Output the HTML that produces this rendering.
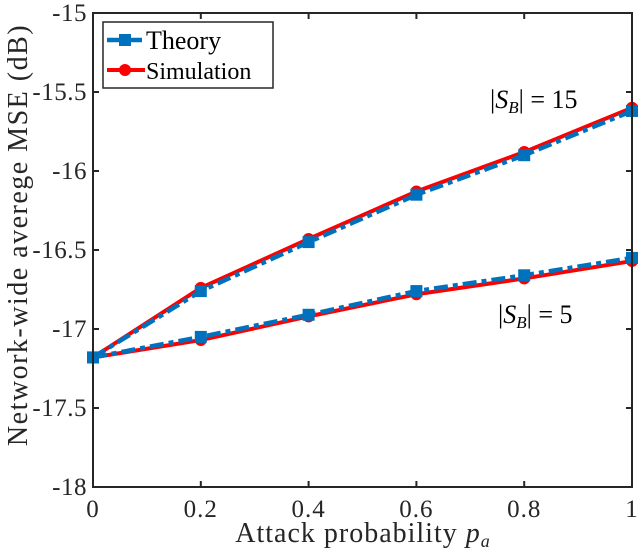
<!DOCTYPE html>
<html><head><meta charset="utf-8"><style>
body{margin:0;background:#fff}
svg{display:block;font-family:"Liberation Serif",serif}
</style></head><body>
<svg id="chart" width="640" height="550">
<rect width="640" height="550" fill="#fff"/>
<g id="grid"></g>
<g id="series"></g>
<g id="axes"></g>
</svg>
<script>
const xTicks=[0,0.2,0.4,0.6,0.8,1];
const xTickLabels=["0","0.2","0.4","0.6","0.8","1"];
const yTicks=[-15,-15.5,-16,-16.5,-17,-17.5,-18];
const yTickLabels=["-15","-15.5","-16","-16.5","-17","-17.5","-18"];
const pa=[0,0.2,0.4,0.6,0.8,1];
const theory15=[-17.18,-16.76,-16.45,-16.15,-15.9,-15.62];
const sim15=[-17.18,-16.74,-16.43,-16.13,-15.88,-15.6];
const theory5=[-17.18,-17.05,-16.91,-16.76,-16.66,-16.55];
const sim5=[-17.18,-17.07,-16.92,-16.78,-16.68,-16.57];

const L=93,R=632,T=13,B=487;
const sx=v=>L+(v-0)/(1-0)*(R-L);
const sy=v=>T+(-15-v)/3*(B-T);
const NS="http://www.w3.org/2000/svg";
function mk(tag,attrs,parent){const e=document.createElementNS(NS,tag);for(const k in attrs)e.setAttribute(k,attrs[k]);parent.appendChild(e);return e;}
const series=document.getElementById('series'),axes=document.getElementById('axes');

function drawSim(vals,name){
  const pts=pa.map((x,i)=>sx(x)+','+sy(vals[i])).join(' ');
  const pl=mk('polyline',{points:pts,fill:'none',stroke:'#ff0000','stroke-width':4},series);
  
  
  pa.forEach((x,i)=>{const c=mk('circle',{cx:sx(x),cy:sy(vals[i]),r:6,fill:'#ff0000'},series);
    
    });
}
function drawTheory(vals,name){
  const pts=pa.map((x,i)=>sx(x)+','+sy(vals[i])).join(' ');
  const pl=mk('polyline',{points:pts,fill:'none',stroke:'#0072BD','stroke-width':4.5,'stroke-dasharray':'14,5,5,5'},series);
  
  
  pa.forEach((x,i)=>{const r=mk('rect',{x:sx(x)-6,y:sy(vals[i])-6,width:12,height:12,fill:'#0072BD'},series);
    
    });
}
drawSim(sim15,'simulation-sb15');
drawSim(sim5,'simulation-sb5');
drawTheory(theory15,'theory-sb15');
drawTheory(theory5,'theory-sb5');

const box=mk('rect',{x:L,y:T,width:R-L,height:B-T,fill:'none',stroke:'#262626','stroke-width':2},axes);


xTicks.forEach((v,i)=>{
  mk('line',{x1:sx(v),x2:sx(v),y1:B,y2:B-6,stroke:'#262626','stroke-width':2},axes);
  mk('line',{x1:sx(v),x2:sx(v),y1:T,y2:T+6,stroke:'#262626','stroke-width':2},axes);
  const t=mk('text',{x:sx(v),y:B+30,'text-anchor':'middle','font-size':25,'letter-spacing':1,fill:'#262626'},axes);
  t.textContent=xTickLabels[i];
  
  
});
yTicks.forEach((v,i)=>{
  mk('line',{x1:L,x2:L+6,y1:sy(v),y2:sy(v),stroke:'#262626','stroke-width':2},axes);
  mk('line',{x1:R,x2:R-6,y1:sy(v),y2:sy(v),stroke:'#262626','stroke-width':2},axes);
  const t=mk('text',{x:L-6,y:sy(v)+8,'text-anchor':'end','font-size':25,'letter-spacing':0.5,fill:'#262626'},axes);
  t.textContent=yTickLabels[i];
  
  
});
</script>
<svg style="position:absolute;left:0;top:0" width="640" height="550" font-family="Liberation Serif, serif">
<text x="363" y="542" text-anchor="middle" font-size="28" letter-spacing="1" fill="#262626">Attack probability <tspan font-style="italic">p</tspan><tspan font-style="italic" font-size="18" dy="5">a</tspan></text>
<text transform="translate(27,235) rotate(-90)" text-anchor="middle" font-size="28" letter-spacing="1.5" fill="#262626">Network-wide averege MSE (dB)</text>
<g>
<rect x="103" y="22" width="170" height="66" fill="#fff" stroke="#262626" stroke-width="1.5"/>
<line x1="107" y1="40" x2="142" y2="40" stroke="#0072BD" stroke-width="4.5"/>
<rect x="119" y="34" width="12" height="12" fill="#0072BD"/>
<text x="146" y="49" font-size="26" fill="#000">Theory</text>
<line x1="107" y1="70" x2="145" y2="70" stroke="#ff0000" stroke-width="4"/>
<circle cx="125" cy="70" r="6" fill="#ff0000"/>
<text x="146" y="79" font-size="24" fill="#000">Simulation</text>
</g>
<text x="490" y="108" font-size="26" fill="#000">|<tspan font-style="italic">S</tspan><tspan font-style="italic" font-size="17" dy="5">B</tspan><tspan dy="-5">| = 15</tspan></text>
<text x="498" y="323" font-size="26" fill="#000">|<tspan font-style="italic">S</tspan><tspan font-style="italic" font-size="17" dy="5">B</tspan><tspan dy="-5">| = 5</tspan></text>
</svg>
</body></html>
